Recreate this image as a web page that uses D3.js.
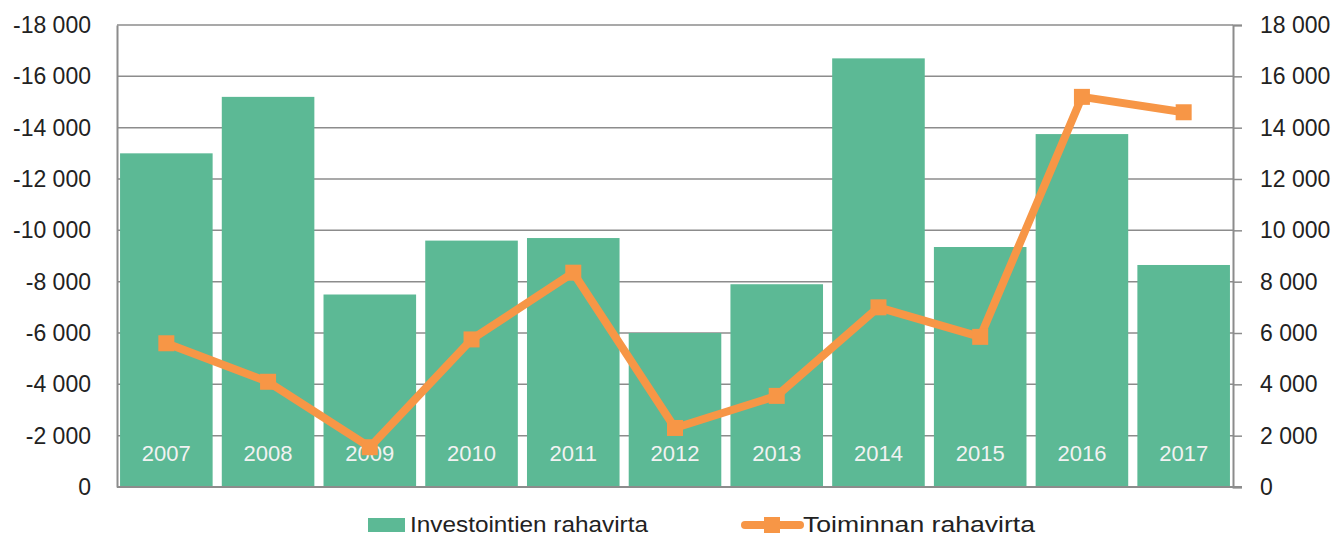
<!DOCTYPE html>
<html>
<head>
<meta charset="utf-8">
<script src="https://cdn.jsdelivr.net/npm/d3@7"></script>
<style>
  body { margin: 0; background: #fff; }
  text { font-family: "Liberation Sans", Arial, sans-serif; }
</style>
</head>
<body>
<div class="chart"></div>
<script>
var years = ['2007', '2008', '2009', '2010', '2011', '2012', '2013', '2014', '2015', '2016', '2017'];
var investments = [-13000, -15200, -7500, -9600, -9700, -6000, -7900, -16700, -9350, -13750, -8650];
var operations = [5600, 4100, 1550, 5750, 8350, 2300, 3550, 7000, 5850, 15200, 14600];
var leftTicks = [0, -2000, -4000, -6000, -8000, -10000, -12000, -14000, -16000, -18000];
var rightTicks = [0, 2000, 4000, 6000, 8000, 10000, 12000, 14000, 16000, 18000];
var seriesNames = ['Investointien rahavirta', 'Toiminnan rahavirta'];

var width = 1336, height = 538;
var plotLeft = 117, plotRight = 1233, plotTop = 25, plotBottom = 487;
var green = '#5cb995', orange = '#f79646', grid = '#8c8c8c';

// thousands with a space, like "-18 000"
function fmt(v) {
  var s = Math.abs(v).toString().replace(/\B(?=(\d{3})+(?!\d))/g, ' ');
  return (v < 0 ? '-' : '') + s;
}

var svg = d3.select('.chart').append('svg')
  .attr('width', width)
  .attr('height', height);

var x = d3.scaleBand().domain(years).range([plotLeft, plotRight]).paddingInner(0.09).paddingOuter(0.03);
var yLeft = d3.scaleLinear().domain([0, -18000]).range([plotBottom, plotTop]);
var yRight = d3.scaleLinear().domain([0, 18000]).range([plotBottom, plotTop]);

// gridlines behind bars
svg.append('g').selectAll('line').data(leftTicks).enter().append('line')
  .attr('x1', plotLeft).attr('x2', plotRight)
  .attr('y1', function(d) { return yLeft(d); })
  .attr('y2', function(d) { return yLeft(d); })
  .attr('stroke', grid).attr('stroke-width', 1.5);

// left axis
var gl = svg.append('g').attr('transform', 'translate(' + plotLeft + ',0)')
  .call(d3.axisLeft(yLeft).tickValues(leftTicks).tickFormat(fmt).tickSize(0).tickPadding(26));
gl.select('.domain').attr('stroke', grid).attr('stroke-width', 2);
gl.selectAll('text').attr('font-size', 23).attr('fill', '#222')
  .attr('font-family', '"Liberation Sans", Arial, sans-serif');

// right axis
var gr = svg.append('g').attr('transform', 'translate(' + plotRight + ',0)')
  .call(d3.axisRight(yRight).tickValues(rightTicks).tickFormat(fmt).tickSize(9).tickPadding(18));
gr.select('.domain').attr('stroke', grid).attr('stroke-width', 2);
gr.selectAll('.tick line').attr('stroke', grid).attr('stroke-width', 1.5);
gr.selectAll('text').attr('font-size', 23).attr('fill', '#222')
  .attr('font-family', '"Liberation Sans", Arial, sans-serif');

// bars
svg.append('g').selectAll('rect').data(investments).enter().append('rect')
  .attr('x', function(d, i) { return x(years[i]); })
  .attr('width', x.bandwidth())
  .attr('y', function(d) { return yLeft(d); })
  .attr('height', function(d) { return plotBottom - yLeft(d); })
  .attr('fill', green);

// year labels inside the bars
svg.append('g').selectAll('text').data(years).enter().append('text')
  .attr('x', function(d) { return x(d) + x.bandwidth() / 2; })
  .attr('y', 461)
  .attr('text-anchor', 'middle')
  .attr('font-size', 22)
  .attr('fill', '#f2f2f2')
  .text(function(d) { return d; });

// bottom axis line
svg.append('line').attr('x1', plotLeft).attr('x2', plotRight + 9)
  .attr('y1', plotBottom).attr('y2', plotBottom)
  .attr('stroke', grid).attr('stroke-width', 2);

// line series
var line = d3.line()
  .x(function(d, i) { return x(years[i]) + x.bandwidth() / 2; })
  .y(function(d) { return yRight(d); });

svg.append('path').datum(operations)
  .attr('d', line)
  .attr('fill', 'none')
  .attr('stroke', orange)
  .attr('stroke-width', 8)
  .attr('stroke-linejoin', 'round');

svg.append('g').selectAll('rect').data(operations).enter().append('rect')
  .attr('x', function(d, i) { return x(years[i]) + x.bandwidth() / 2 - 8; })
  .attr('y', function(d) { return yRight(d) - 8; })
  .attr('width', 16).attr('height', 16)
  .attr('fill', orange);

// legend
var lg = svg.append('g');
lg.append('rect').attr('x', 368).attr('y', 518).attr('width', 37).attr('height', 14).attr('fill', green);
lg.append('text').attr('x', 410).attr('y', 532).attr('font-size', 22).attr('fill', '#222')
  .attr('textLength', 238).attr('lengthAdjust', 'spacingAndGlyphs')
  .text(seriesNames[0]);
lg.append('line').attr('x1', 745).attr('x2', 800).attr('y1', 525).attr('y2', 525)
  .attr('stroke', orange).attr('stroke-width', 8).attr('stroke-linecap', 'round');
lg.append('rect').attr('x', 764).attr('y', 517).attr('width', 16).attr('height', 16).attr('fill', orange);
lg.append('text').attr('x', 803).attr('y', 532).attr('font-size', 22).attr('fill', '#222')
  .attr('textLength', 232).attr('lengthAdjust', 'spacingAndGlyphs')
  .text(seriesNames[1]);
</script>
</body>
</html>
